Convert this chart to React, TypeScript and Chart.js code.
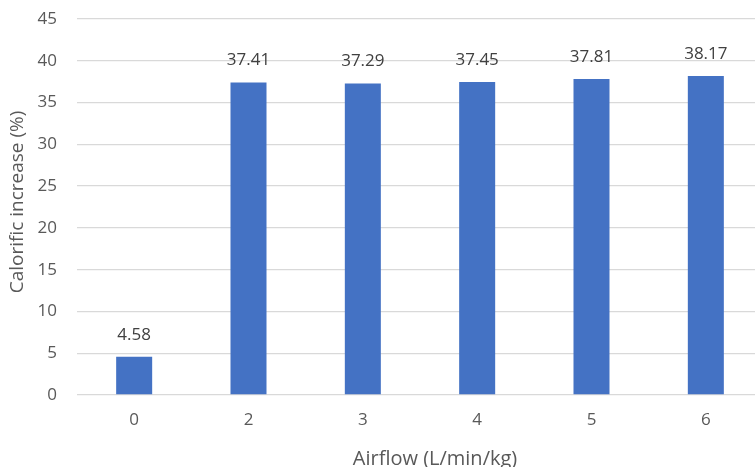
import React, { useEffect, useRef } from "react";
import { Chart, registerables } from "chart.js";

Chart.register(...registerables);

const categories = ["0", "2", "3", "4", "5", "6"];
const values = [4.58, 37.41, 37.29, 37.45, 37.81, 38.17];
const yTicks = [0, 5, 10, 15, 20, 25, 30, 35, 40, 45];
const xTitle = "Airflow (L/min/kg)";
const yTitle = "Calorific increase (%)";

const FONT = "'Open Sans', sans-serif";

const valueLabels = {
  id: "valueLabels",
  afterDatasetsDraw(chart: any) {
    const ctx = chart.ctx;
    const meta = chart.getDatasetMeta(0);
    ctx.save();
    ctx.font = `17px ${FONT}`;
    ctx.fillStyle = "#404040";
    ctx.textAlign = "center";
    ctx.textBaseline = "middle";
    meta.data.forEach((bar: any, i: number) => {
      ctx.fillText(values[i].toFixed(2), bar.x, bar.y - 22);
    });
    ctx.restore();
  },
};

const axisTitles = {
  id: "axisTitles",
  afterDraw(chart: any) {
    const ctx = chart.ctx;
    ctx.save();
    ctx.fillStyle = "#595959";
    ctx.textAlign = "center";
    ctx.textBaseline = "alphabetic";
    ctx.font = `20px ${FONT}`;
    ctx.fillText(xTitle, 435, 465);
    ctx.translate(18, 202);
    ctx.rotate(-Math.PI / 2);
    ctx.textBaseline = "middle";
    ctx.font = `19px ${FONT}`;
    ctx.fillText(yTitle, 0, 0);
    ctx.restore();
  },
};

export default function App() {
  const ref = useRef<HTMLCanvasElement>(null);
  useEffect(() => {
    document.body.style.margin = "0";
    const chart = new Chart(ref.current!, {
      type: "bar",
      data: {
        labels: categories,
        datasets: [
          {
            data: values,
            backgroundColor: "#4472C4",
            borderWidth: 0,
            barPercentage: 1,
            categoryPercentage: 0.315,
          },
        ],
      },
      options: {
        animation: false,
        responsive: false,
        layout: { padding: { top: 0, left: 0, right: 0, bottom: 0 } },
        plugins: { legend: { display: false }, tooltip: { enabled: false } },
        scales: {
          x: {
            grid: { display: false, drawTicks: false },
            border: { display: false },
            ticks: { color: "#595959", font: { family: FONT, size: 17 }, padding: 15 },
            afterFit(scale: any) {
              scale.height = 72;
            },
          },
          y: {
            min: 0,
            max: 45,
            afterBuildTicks(scale: any) {
              scale.ticks = yTicks.map((v) => ({ value: v }));
            },
            grid: { color: "#D9D9D9", lineWidth: 1.3, drawTicks: false },
            border: { display: false },
            ticks: { color: "#595959", font: { family: FONT, size: 17 }, padding: 20 },
            afterFit(scale: any) {
              scale.width = 77;
              scale.paddingTop = 0;
            },
          },
        },
      },
      plugins: [
        valueLabels,
        axisTitles,
        {
          id: "areaFix",
          afterLayout(chart: any) {
            const y = chart.scales.y;
            if (y.top !== 19) {
              chart.chartArea.top = 19;
              y.top = 19;
              y.height = y.bottom - 19;
              y.configure();
              y._startPixel = y.top;
              y._length = y.bottom - y.top;
            }
          },
        },
      ],
    });
    return () => chart.destroy();
  }, []);
  return (
    <div style={{ position: "fixed", left: 0, top: 0, width: 755, height: 467, overflow: "hidden", background: "#fff" }}>
      <canvas ref={ref} width={763} height={467} style={{ width: 763, height: 467, display: "block" }} />
    </div>
  );
}
